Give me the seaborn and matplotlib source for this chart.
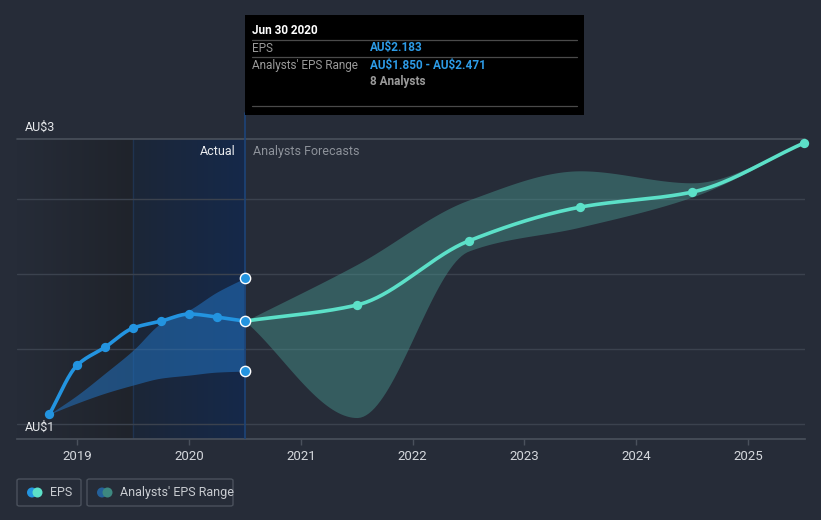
import numpy as np
import pandas as pd
import matplotlib
matplotlib.use("Agg")
import matplotlib.pyplot as plt
import matplotlib.patches as mpatches
from matplotlib.lines import Line2D
from matplotlib.colors import LinearSegmentedColormap
import seaborn as sns

# ---------------- data (decimal years, AU$ EPS) ----------------
actual_t = [2018.75, 2019.0, 2019.25, 2019.5, 2019.75, 2020.0, 2020.25, 2020.5]
actual_eps = [1.563, 1.890, 2.010, 2.137, 2.183, 2.230, 2.210, 2.183]

actual_rng_low = [1.563, 1.637, 1.703, 1.757, 1.803, 1.823, 1.843, 1.850]
actual_rng_high = [1.563, 1.690, 1.837, 1.990, 2.170, 2.257, 2.377, 2.471]

fc_t = [2020.5, 2021.5, 2022.5, 2023.5, 2024.5, 2025.5]
fc_eps = [2.183, 2.290, 2.717, 2.943, 3.043, 3.370]
fc_low = [2.183, 1.540, 2.650, 2.810, 3.010, 3.370]
fc_high = [2.183, 2.560, 2.990, 3.185, 3.105, 3.370]

year_ticks = [2019, 2020, 2021, 2022, 2023, 2024, 2025]
year_labels = ["2019", "2020", "2021", "2022", "2023", "2024", "2025"]
grid_vals = [1.5, 2.0, 2.5, 3.0]

BG = "#262c38"
BLUE = "#2394e0"
MINT = "#5ce0c8"


def pchip(x, y, n=200):
    """Monotone cubic rendering of a series (for a smooth drawn path)."""
    x = np.asarray(x, float)
    y = np.asarray(y, float)
    h = np.diff(x)
    d = np.diff(y) / h
    m = np.zeros_like(y)
    for k in range(1, len(x) - 1):
        if d[k - 1] * d[k] > 0:
            w1 = 2 * h[k] + h[k - 1]
            w2 = h[k] + 2 * h[k - 1]
            m[k] = (w1 + w2) / (w1 / d[k - 1] + w2 / d[k])
    m[0] = d[0]
    m[-1] = d[-1]
    xs = np.linspace(x[0], x[-1], n)
    idx = np.clip(np.searchsorted(x, xs) - 1, 0, len(x) - 2)
    t = (xs - x[idx]) / h[idx]
    h00 = 2 * t**3 - 3 * t**2 + 1
    h10 = t**3 - 2 * t**2 + t
    h01 = -2 * t**3 + 3 * t**2
    h11 = t**3 - t**2
    ys = h00 * y[idx] + h10 * h[idx] * m[idx] + h01 * y[idx + 1] + h11 * h[idx] * m[idx + 1]
    return xs, ys


sns.set_theme(style="dark")
plt.rcParams["font.family"] = ["Roboto", "DejaVu Sans"]

W, H = 821, 520
fig = plt.figure(figsize=(W / 100, H / 100), dpi=100, facecolor=BG)


def fx(px):
    return px / W


def fy(py):
    return 1 - py / H


ax = fig.add_axes([fx(17), fy(439), fx(805) - fx(17), fy(139) - fy(439)])
ax.set_facecolor(BG)
XMIN, XMAX = 2018.46, 2025.51
YMIN, YMAX = 1.397, 3.397

# past shading
grad = np.linspace(0, 1, 256).reshape(1, -1)
cm_dark = LinearSegmentedColormap.from_list("d", [BG, "#1f232b"])
cm_blue = LinearSegmentedColormap.from_list("b", ["#1c2637", "#15294a"])
ax.imshow(grad, cmap=cm_dark, extent=[XMIN, 2019.5, YMIN, YMAX], aspect="auto", zorder=0)
ax.imshow(grad, cmap=cm_blue, extent=[2019.5, 2020.5, YMIN, YMAX], aspect="auto", zorder=0)
ax.set_xlim(XMIN, XMAX)
ax.set_ylim(YMIN, YMAX)
ax.axvline(2019.5, color="#1f3350", lw=1, zorder=1)

# grid lines
for g in grid_vals:
    ax.axhline(g, color="#3b424e", lw=1, zorder=1)
ax.axhline(YMAX, color="#4a515c", lw=1.2, zorder=1, clip_on=False)

# bands
xs, lo = pchip(actual_t, actual_rng_low)
_, hi = pchip(actual_t, actual_rng_high)
ax.fill_between(xs, lo, hi, color="#2272c0", alpha=0.55, lw=0, zorder=2)

xs2, lo2 = pchip(fc_t, fc_low)
_, hi2 = pchip(fc_t, fc_high)
ax.fill_between(xs2, lo2, hi2, color="#4a9f96", alpha=0.42, lw=0, zorder=2)

# lines
xa, ya = pchip(actual_t, actual_eps)
sns.lineplot(x=xa, y=ya, ax=ax, color=BLUE, lw=2.6, zorder=4)
sns.scatterplot(x=actual_t[:-1], y=actual_eps[:-1], ax=ax, color=BLUE, s=45,
                edgecolor=BLUE, linewidth=0, zorder=5)

xf, yf = pchip(fc_t, fc_eps)
sns.lineplot(x=xf, y=yf, ax=ax, color=MINT, lw=2.6, zorder=4)
sns.scatterplot(x=fc_t[1:], y=fc_eps[1:], ax=ax, color=MINT, s=45,
                edgecolor=MINT, linewidth=0, zorder=5, clip_on=False)

# vertical marker at Jun 30 2020
ax.axvline(2020.5, color="#1d4478", lw=1.2, zorder=3)
ax.plot([2020.5, 2020.5], [YMAX, YMAX + 0.17], color="#1d4478", lw=1.2, clip_on=False, zorder=3)
ax.scatter([2020.5, 2020.5, 2020.5], [actual_eps[-1], actual_rng_low[-1], actual_rng_high[-1]],
           s=55, color=BLUE, edgecolor="white", linewidth=1.0, zorder=6)

# axes styling
for s in ["left", "right", "top"]:
    ax.spines[s].set_visible(False)
ax.spines["bottom"].set_color("#4a515c")
ax.spines["bottom"].set_linewidth(1.2)
ax.set_yticks([])
ax.set_xticks(year_ticks)
ax.set_xticklabels(year_labels, color="#d4d7dc", fontsize=9.5)
ax.tick_params(axis="x", length=4, color="#4a515c", width=1, pad=4, bottom=True)
ax.set_xlabel("")
ax.set_ylabel("")
ax.grid(False)

# y labels
fig.text(fx(25), fy(127), "AU\\$3", color="#e6e8eb", fontsize=9, va="center", ha="left")
fig.text(fx(25), fy(427), "AU\\$1", color="#e6e8eb", fontsize=9, va="center", ha="left")

# Actual / Forecast labels
fig.text(fx(236), fy(151), "Actual", color="#e8eaed", fontsize=9, va="center", ha="right")
fig.text(fx(253), fy(151), "Analysts Forecasts", color="#8d929a", fontsize=9, va="center", ha="left")

# tooltip
fig.patches.append(mpatches.Rectangle((fx(245), fy(115)), fx(584) - fx(245), fy(15) - fy(115),
                                      transform=fig.transFigure, facecolor="black",
                                      edgecolor="none", zorder=10))
for ly in [40, 57, 106]:
    fig.lines.append(Line2D([fx(252), fx(577)], [fy(ly), fy(ly)], transform=fig.transFigure,
                            color="#4a4a4a", lw=0.9, zorder=11))
fig.text(fx(252), fy(30), "Jun 30 2020", color="white", fontsize=8.5, fontweight="bold",
         va="center", ha="left", zorder=12)
fig.text(fx(252), fy(48), "EPS", color="#9a9a9a", fontsize=8.5, va="center", ha="left", zorder=12)
fig.text(fx(370), fy(48), "AU\\$2.183", color="#2d9be6", fontsize=8.5, fontweight="bold",
         va="center", ha="left", zorder=12)
fig.text(fx(252), fy(65), "Analysts' EPS Range", color="#9a9a9a", fontsize=8.5, va="center",
         ha="left", zorder=12)
fig.text(fx(370), fy(65), "AU\\$1.850 - AU\\$2.471", color="#2d9be6", fontsize=8.5,
         fontweight="bold", va="center", ha="left", zorder=12)
fig.text(fx(370), fy(81), "8 Analysts", color="#9a9a9a", fontsize=8.5, fontweight="bold",
         va="center", ha="left", zorder=12)


# legend boxes
def legbox(x0, x1, label, c1, c2, tx):
    fig.patches.append(mpatches.FancyBboxPatch((fx(x0), fy(506)), fx(x1) - fx(x0), fy(479) - fy(506),
                                               boxstyle="round,pad=0,rounding_size=0.003",
                                               transform=fig.transFigure, facecolor="none",
                                               edgecolor="#4a515c", lw=1))
    cy = fy(492.5)
    fig.patches.append(mpatches.Ellipse((fx(tx - 18), cy), 10 / W, 10 / H, transform=fig.transFigure,
                                        facecolor=c1, edgecolor="none"))
    fig.patches.append(mpatches.Ellipse((fx(tx - 12.5), cy), 10 / W, 10 / H, transform=fig.transFigure,
                                        facecolor=c2, edgecolor="none"))
    fig.text(fx(tx), cy, label, color="#c9ccd1", fontsize=9, va="center", ha="left")


legbox(17, 81, "EPS", BLUE, MINT, 50)
legbox(87, 233, "Analysts' EPS Range", "#24609a", "#3d8880", 120)

fig.savefig("out.png", dpi=100, facecolor=BG)
